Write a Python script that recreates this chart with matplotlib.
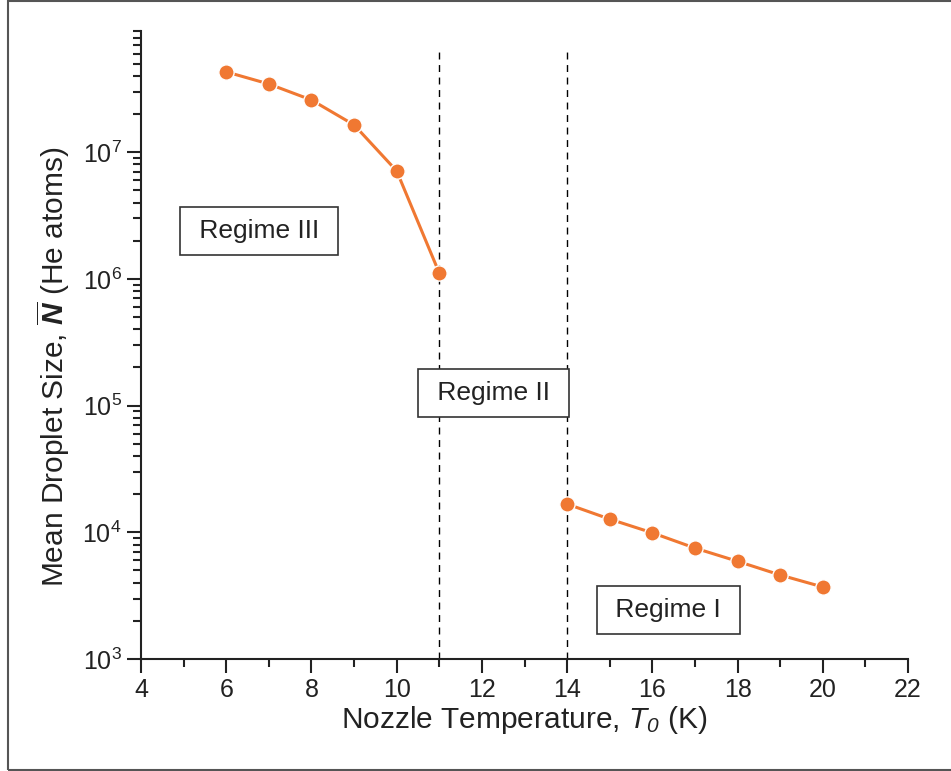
import matplotlib
matplotlib.use("Agg")
import matplotlib.pyplot as plt
from matplotlib.patches import Rectangle
from matplotlib.ticker import LogLocator, MultipleLocator, NullFormatter

# nozzle temperature (K) and mean droplet size (He atoms)
temp_low = [6, 7, 8, 9, 10, 11]
size_low = [4.3e7, 3.45e7, 2.58e7, 1.64e7, 7.1e6, 1.11e6]
temp_high = [14, 15, 16, 17, 18, 19, 20]
size_high = [1.67e4, 1.27e4, 9.9e3, 7.5e3, 5.9e3, 4.6e3, 3.7e3]
boundaries = [11, 14]
regimes = ["Regime III", "Regime II", "Regime I"]
x_ticks = [4, 6, 8, 10, 12, 14, 16, 18, 20, 22]

orange = "#f07832"
plt.rcParams["font.family"] = ["Liberation Sans", "DejaVu Sans"]
plt.rcParams["mathtext.fontset"] = "custom"
plt.rcParams["mathtext.rm"] = "Liberation Sans"
plt.rcParams["mathtext.it"] = "Liberation Sans:italic"
plt.rcParams["mathtext.sf"] = "Liberation Sans:italic"
plt.rcParams["mathtext.bf"] = "Liberation Sans:bold"
plt.rcParams["mathtext.bfit"] = "Liberation Sans:bold:italic"

fig = plt.figure(figsize=(9.51, 7.71), dpi=100)
fig.patches.append(Rectangle((8 / 951, 1 / 771), 1.2, 1 - 2 / 771, transform=fig.transFigure,
                             fill=False, edgecolor="#555555", linewidth=1.5))
ax = fig.add_axes([0.1483, 0.1453, 0.9548 - 0.1483, 0.9595 - 0.1453])

for x in boundaries:
    ax.plot([x, x], [1e3, 6.2e7], color="black", linestyle=(0, (5, 4)), linewidth=1.0, zorder=1)

for xs, ys in ((temp_low, size_low), (temp_high, size_high)):
    ax.plot(xs, ys, color=orange, linewidth=2.2, marker="o", markersize=11,
            markeredgecolor="white", markeredgewidth=1.0, zorder=3)

box = dict(boxstyle="square,pad=0.45", facecolor="white", edgecolor="#333333", linewidth=1.2)
text_pos = [(6.77, 2.39e6), (12.27, 1.26e5), (16.38, 2.42e3)]
for label, (x, y) in zip(regimes, text_pos):
    ax.text(x, y, " " + label + " ", fontsize=19, ha="center", va="center", color="#222222",
            bbox=box, zorder=4)

ax.set_yscale("log")
ax.set_xlim(4, 22)
ax.set_ylim(1e3, 9e7)
ax.set_xticks(x_ticks)
ax.xaxis.set_minor_locator(MultipleLocator(1))
ax.yaxis.set_major_locator(LogLocator(base=10, numticks=10))
ax.yaxis.set_minor_locator(LogLocator(base=10, subs=range(2, 10), numticks=20))
ax.yaxis.set_minor_formatter(NullFormatter())

for side in ("top", "right"):
    ax.spines[side].set_visible(False)
for side in ("left", "bottom"):
    ax.spines[side].set_linewidth(1.5)
    ax.spines[side].set_color("#222222")
ax.tick_params(which="major", direction="out", length=10, width=1.5, labelsize=18,
               colors="#222222", pad=4)
ax.tick_params(which="minor", direction="out", length=6, width=1.5, colors="#222222")

ax.set_xlabel(r"Nozzle Temperature, $T_{\mathsf{0}}$ (K)", fontsize=21.5, labelpad=1,
              color="#222222")
ax.set_ylabel(r"Mean Droplet Size, $\overline{\boldsymbol{N}}$ (He atoms)", fontsize=21.5,
              color="#222222")
ax.yaxis.set_label_coords(-0.09, 0.466)

fig.savefig("out.png", dpi=100)
